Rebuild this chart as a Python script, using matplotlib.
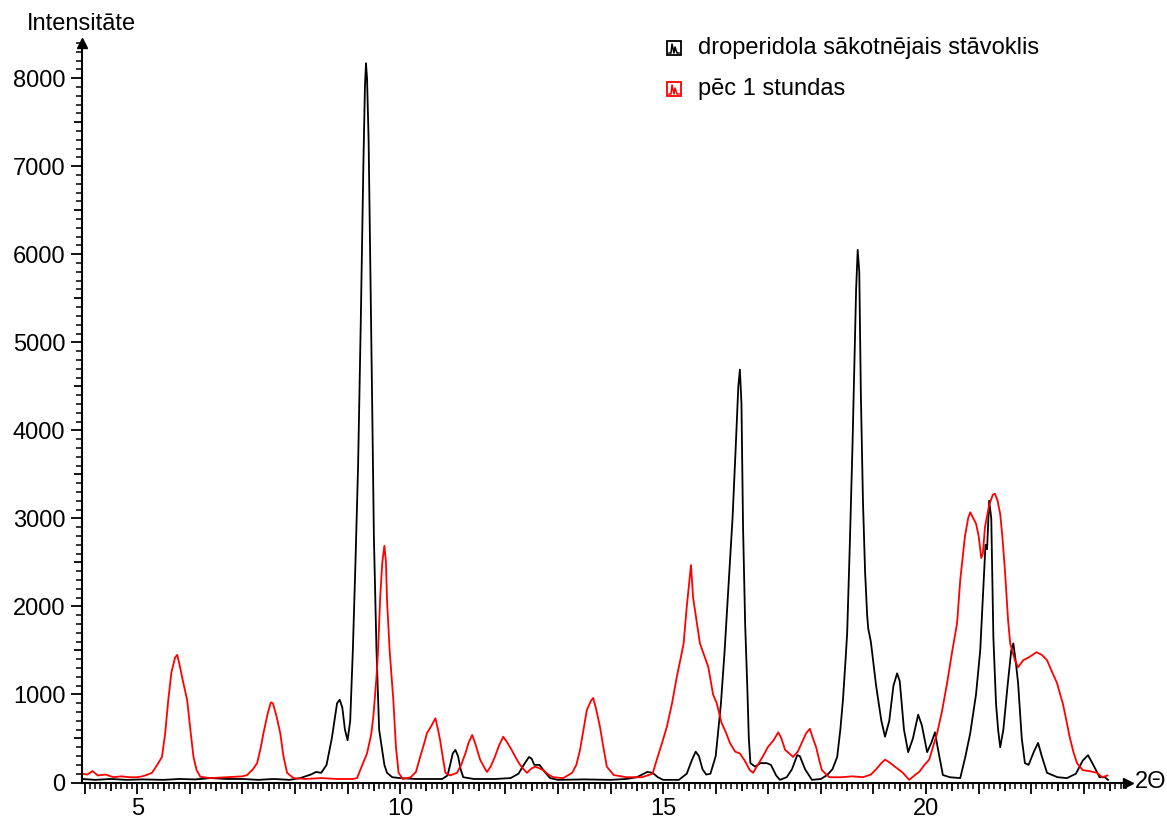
import matplotlib
matplotlib.use("Agg")
import matplotlib.pyplot as plt
from matplotlib.patches import Rectangle
from matplotlib.lines import Line2D
from matplotlib.ticker import MultipleLocator, FuncFormatter

plt.rcParams['font.family'] = ['Liberation Sans', 'DejaVu Sans']
plt.rcParams['font.size'] = 17

# Series 1: droperidol, initial state (black)
black_x = [3.95, 4.2, 4.5, 4.8, 5.1, 5.5, 5.8, 6.1, 6.4, 6.7, 7.0, 7.3, 7.6, 7.9, 8.1, 8.3, 8.4, 8.5,
           8.6, 8.7, 8.8, 8.85, 8.9, 8.95, 9.0, 9.05, 9.1, 9.15, 9.2, 9.25, 9.3, 9.33, 9.35, 9.37,
           9.4, 9.43, 9.47, 9.5, 9.55, 9.6, 9.65, 9.7, 9.75, 9.85, 10.0, 10.3, 10.6, 10.8, 10.9,
           10.95, 11.0, 11.05, 11.1, 11.15, 11.2, 11.4, 11.8, 12.1, 12.25, 12.35, 12.45, 12.5,
           12.55, 12.65, 12.75, 12.85, 13.0, 13.5, 14.0, 14.3, 14.5, 14.7, 14.8, 14.9, 15.0, 15.3,
           15.45, 15.55, 15.62, 15.68, 15.75, 15.82, 15.9, 16.0, 16.1, 16.17, 16.25, 16.32, 16.38,
           16.43, 16.46, 16.49, 16.52, 16.56, 16.6, 16.63, 16.66, 16.75, 16.85, 16.97, 17.05, 17.15,
           17.22, 17.35, 17.45, 17.55, 17.6, 17.7, 17.83, 18.0, 18.12, 18.22, 18.31, 18.37, 18.42,
           18.47, 18.5, 18.55, 18.6, 18.64, 18.67, 18.7, 18.73, 18.76, 18.8, 18.84, 18.88, 18.9,
           18.95, 19.05, 19.15, 19.22, 19.3, 19.38, 19.45, 19.5, 19.58, 19.66, 19.75, 19.85, 19.92,
           20.02, 20.1, 20.17, 20.22, 20.32, 20.45, 20.65, 20.75, 20.84, 20.95, 21.03, 21.08, 21.13,
           21.16, 21.2, 21.24, 21.28, 21.33, 21.37, 21.41, 21.47, 21.55, 21.62, 21.66, 21.71, 21.75,
           21.82, 21.88, 21.95, 22.05, 22.13, 22.2, 22.3, 22.5, 22.68, 22.85, 22.98, 23.08, 23.18,
           23.3, 23.4, 23.46]
black_y = [40, 30, 40, 30, 35, 30, 40, 35, 50, 40, 40, 30, 40, 30, 50, 90, 120, 110,
           200, 500, 900, 940, 850, 600, 480, 700, 1500, 2500, 3600, 5200, 7000, 7900, 8170, 8000,
           7300, 6000, 4200, 2800, 1500, 600, 400, 200, 110, 60, 50, 40, 40, 40, 80,
           200, 330, 370, 300, 150, 60, 40, 40, 50, 100, 200, 290, 270,
           200, 200, 120, 50, 30, 35, 30, 40, 60, 120, 110, 60, 30, 30,
           100, 260, 350, 300, 150, 90, 100, 300, 900, 1500, 2300, 3000, 3800,
           4500, 4690, 4300, 2900, 1800, 1100, 500, 220, 180, 220, 220, 200, 80,
           30, 60, 150, 310, 300, 150, 30, 40, 85, 150, 290, 600, 940,
           1400, 1700, 2700, 3800, 4800, 5600, 6050, 5800, 4420, 3200, 2400, 1900, 1750,
           1600, 1100, 700, 520, 700, 1100, 1240, 1150, 600, 345, 500, 770, 650,
           345, 450, 570, 400, 85, 60, 50, 300, 560, 1000, 1500, 2100, 2700,
           2650, 3200, 3000, 1650, 900, 600, 400, 600, 1100, 1500, 1580, 1350, 1130,
           500, 220, 200, 350, 450, 300, 110, 60, 50, 100, 250, 310, 200,
           60, 60, 30]

# Series 2: after 1 hour (red)
red_x = [3.95, 4.05, 4.15, 4.25, 4.4, 4.55, 4.7, 4.85, 5.0, 5.1, 5.2, 5.28, 5.38, 5.47, 5.53, 5.59,
         5.65, 5.72, 5.76, 5.8, 5.87, 5.95, 6.02, 6.07, 6.13, 6.2, 6.4, 6.7, 7.0, 7.09, 7.2, 7.28,
         7.35, 7.4, 7.48, 7.54, 7.58, 7.65, 7.72, 7.78, 7.85, 7.97, 8.2, 8.5, 8.8, 9.1, 9.18, 9.28,
         9.37, 9.45, 9.49, 9.55, 9.58, 9.62, 9.66, 9.7, 9.73, 9.75, 9.8, 9.87, 9.92, 9.97, 10.05,
         10.2, 10.3, 10.38, 10.45, 10.51, 10.6, 10.67, 10.72, 10.76, 10.82, 10.86, 10.95, 11.08,
         11.16, 11.24, 11.3, 11.37, 11.44, 11.52, 11.6, 11.65, 11.72, 11.8, 11.88, 11.96, 12.04,
         12.12, 12.2, 12.28, 12.35, 12.41, 12.5, 12.57, 12.65, 12.72, 12.82, 12.91, 13.1, 13.27,
         13.35, 13.42, 13.5, 13.55, 13.63, 13.67, 13.72, 13.8, 13.87, 13.93, 14.06, 14.3, 14.6,
         14.8, 14.88, 14.98, 15.07, 15.17, 15.26, 15.33, 15.39, 15.45, 15.5, 15.53, 15.57, 15.62,
         15.7, 15.8, 15.86, 15.95, 16.02, 16.11, 16.2, 16.27, 16.37, 16.46, 16.55, 16.65, 16.71,
         16.8, 16.9, 16.99, 17.1, 17.19, 17.25, 17.32, 17.4, 17.47, 17.56, 17.66, 17.72, 17.79,
         17.85, 17.91, 17.97, 18.02, 18.16, 18.4, 18.6, 18.8, 18.95, 19.05, 19.15, 19.22, 19.3,
         19.45, 19.56, 19.68, 19.8, 19.87, 19.97, 20.06, 20.13, 20.21, 20.3, 20.4, 20.5, 20.59,
         20.65, 20.74, 20.8, 20.84, 20.9, 20.95, 21.0, 21.05, 21.08, 21.12, 21.2, 21.27, 21.31,
         21.36, 21.41, 21.45, 21.5, 21.56, 21.6, 21.69, 21.75, 21.85, 21.95, 22.1, 22.2, 22.3,
         22.4, 22.49, 22.55, 22.6, 22.67, 22.73, 22.8, 22.87, 22.98, 23.1, 23.25, 23.35, 23.45]
red_y = [100, 90, 130, 80, 90, 60, 70, 60, 60, 70, 90, 110, 200, 290, 550, 935,
         1250, 1420, 1450, 1350, 1150, 935, 550, 290, 140, 65, 50, 60, 70, 85, 150, 220,
         400, 560, 780, 910, 900, 750, 560, 300, 110, 50, 40, 50, 40, 40, 50, 200,
         330, 550, 750, 1200, 1500, 2100, 2500, 2690, 2500, 2070, 1500, 935, 400, 110, 40,
         60, 120, 290, 430, 560, 650, 730, 600, 480, 250, 110, 80, 110,
         200, 330, 450, 540, 420, 260, 170, 120, 180, 290, 420, 520, 450,
         370, 280, 200, 150, 110, 160, 180, 160, 140, 90, 60, 50, 110,
         200, 370, 650, 825, 930, 960, 850, 630, 380, 180, 85, 60, 60,
         100, 260, 450, 630, 900, 1200, 1400, 1580, 2000, 2300, 2470, 2100, 1900,
         1580, 1410, 1310, 1000, 900, 680, 560, 450, 350, 330, 250, 140, 110,
         200, 300, 400, 480, 570, 500, 370, 330, 290, 350, 480, 560, 610,
         500, 400, 250, 140, 60, 60, 70, 60, 90, 150, 220, 260, 230,
         160, 110, 30, 90, 120, 200, 260, 400, 560, 800, 1130, 1500, 1810,
         2300, 2800, 3000, 3070, 3000, 2940, 2800, 2550, 2600, 2900, 3150, 3270, 3280,
         3200, 3050, 2800, 2410, 1840, 1580, 1390, 1310, 1390, 1420, 1480, 1450, 1390,
         1250, 1130, 1000, 900, 700, 520, 350, 220, 140, 130, 110, 60, 80]

series_names = ["droperidola sākotnējais stāvoklis", "pēc 1 stundas"]
series_colors = ["black", "red"]

W, H = 1167, 821
fig = plt.figure(figsize=(W / 100, H / 100), dpi=100)
ax = fig.add_axes([82 / W, 38.5 / H, (1128 - 82) / W, (782.5 - 43) / H])

ax.plot(black_x, black_y, color="black", lw=1.3)
ax.plot(red_x, red_y, color="red", lw=1.3)

ax.set_xlim(3.95, 23.84)
ax.set_ylim(0, 8400)

# only left/bottom axes, with arrow heads
for side in ("top", "right"):
    ax.spines[side].set_visible(False)
for side in ("left", "bottom"):
    ax.spines[side].set_linewidth(1.5)
ax.plot(1, 0, ">k", transform=ax.transAxes, clip_on=False, markersize=7)
ax.plot(0, 1, "^k", transform=ax.transAxes, clip_on=False, markersize=7)

# ticks: majors every 0.5 / 500, minors every 0.1 / 100
ax.xaxis.set_major_locator(MultipleLocator(0.5))
ax.xaxis.set_minor_locator(MultipleLocator(0.1))
ax.yaxis.set_major_locator(MultipleLocator(500))
ax.yaxis.set_minor_locator(MultipleLocator(100))
ax.xaxis.set_major_formatter(FuncFormatter(lambda v, p: "%d" % round(v) if abs(v % 5) < 1e-6 else ""))
ax.yaxis.set_major_formatter(FuncFormatter(lambda v, p: "%d" % round(v) if abs(v % 1000) < 1e-6 else ""))
ax.tick_params(which="major", direction="out", width=1.3, length=8, pad=3)
ax.tick_params(which="minor", direction="out", width=1.1, length=4)
ax.tick_params(axis="y", which="major", pad=4)

xticks = ax.get_xticks()
for pos, tick in zip(xticks, ax.xaxis.get_major_ticks(len(xticks))):
    if abs(pos - round(pos)) > 1e-6:
        tick.tick1line.set_markersize(5.5)
yticks = ax.get_yticks()
for pos, tick in zip(yticks, ax.yaxis.get_major_ticks(len(yticks))):
    if abs(pos % 1000) > 1e-6:
        tick.tick1line.set_markersize(5.5)

# axis titles
fig.text(27 / W, 1 - 24 / H, "Intensitāte", ha="left", va="center")
fig.text(1135 / W, 1 - 782 / H, "2Θ", ha="left", va="center")


# hand-drawn legend with the small spectrum icons
def legend_entry(y_px, color, label):
    x0, size = 667, 14
    fig.add_artist(Rectangle((x0 / W, 1 - (y_px + size / 2) / H), size / W, size / H,
                             transform=fig.transFigure, fill=False, edgecolor=color, lw=1.3))
    icon_x = [x0 + 2, x0 + 4, x0 + 5, x0 + 7, x0 + 8, x0 + 10, x0 + 12]
    icon_y = [y_px + 5, y_px + 5, y_px - 4, y_px + 5, y_px - 1, y_px + 5, y_px + 5]
    fig.add_artist(Line2D([v / W for v in icon_x], [1 - v / H for v in icon_y],
                          transform=fig.transFigure, color=color, lw=1.1))
    fig.text(698 / W, 1 - y_px / H, label, ha="left", va="center")


legend_entry(48, series_colors[0], series_names[0])
legend_entry(89, series_colors[1], series_names[1])

fig.savefig("out.png", dpi=100, facecolor="white")
